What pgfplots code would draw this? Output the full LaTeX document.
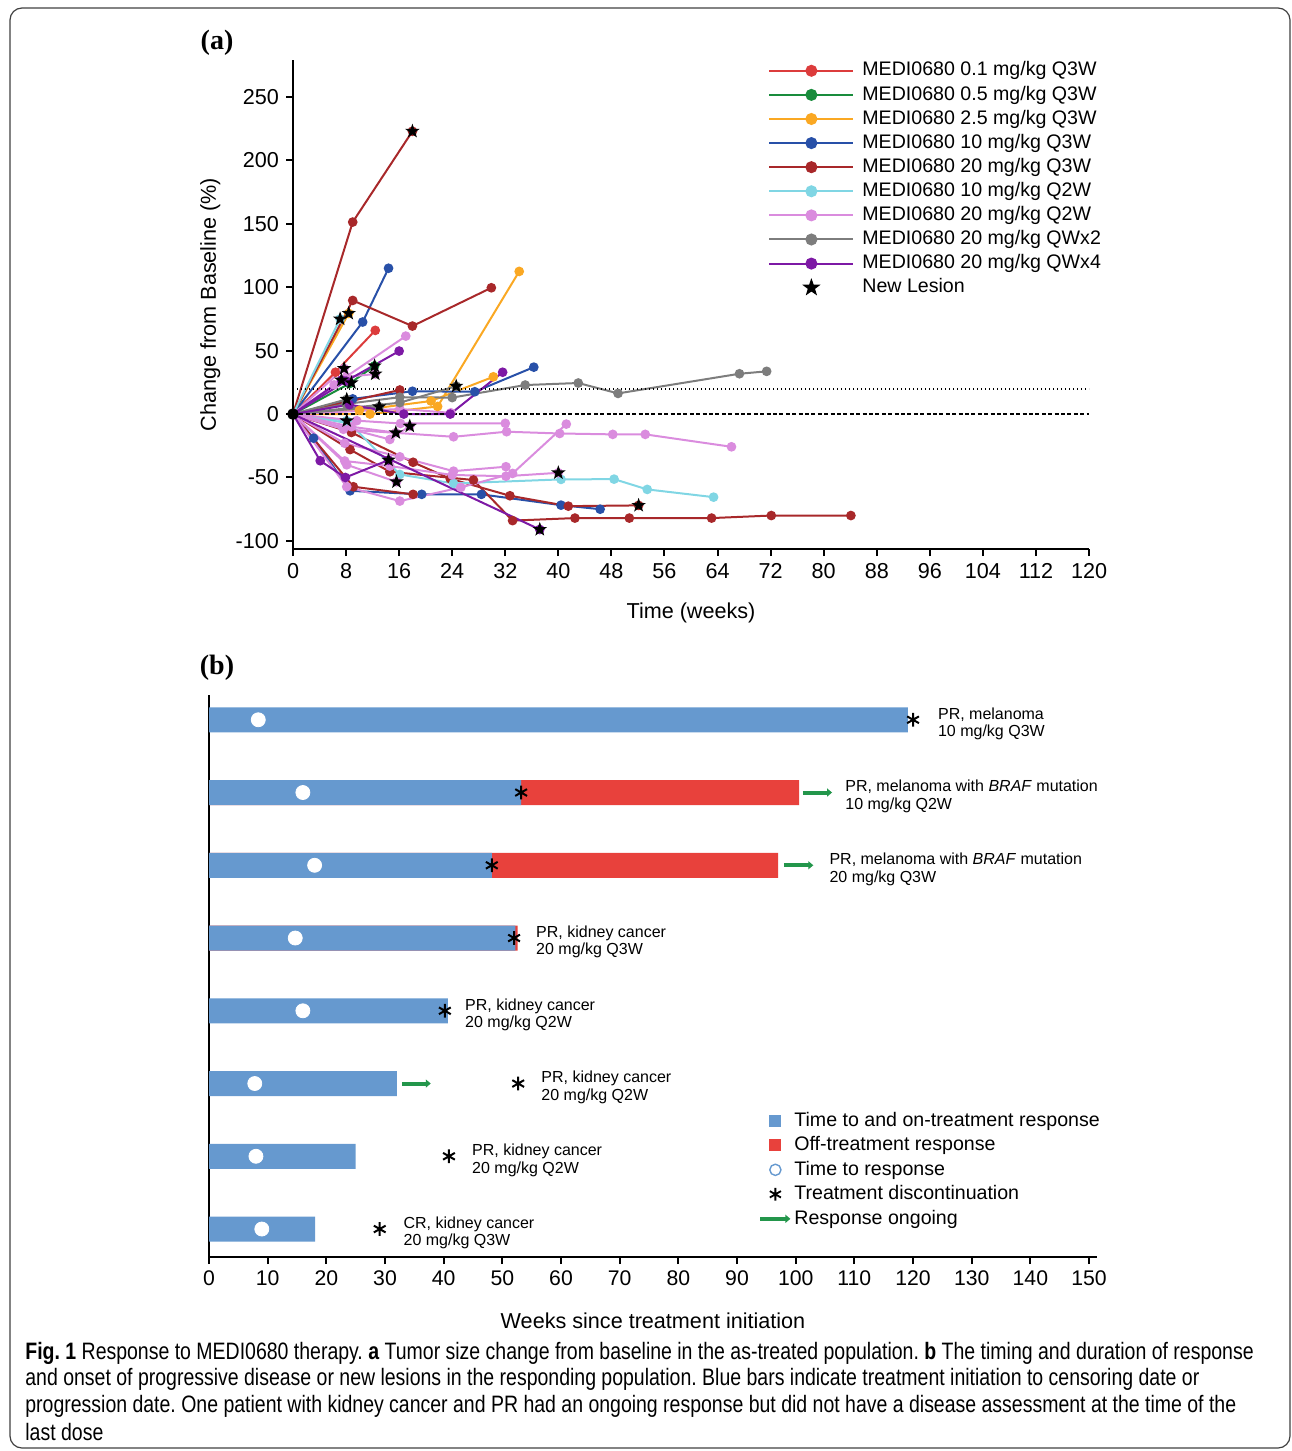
\documentclass[border=0pt]{standalone}
\usepackage{fontspec}
\setmainfont{Liberation Sans}
\newfontfamily\tnr{Liberation Serif}
\newfontfamily\capfont{Liberation Sans}[FakeStretch=0.82]
\usepackage{pgfplots}
\pgfplotsset{compat=1.18}
\usetikzlibrary{arrows.meta}

\definecolor{cA}{RGB}{220,60,60}
\definecolor{cB}{RGB}{25,140,60}
\definecolor{cC}{RGB}{250,168,35}
\definecolor{cD}{RGB}{40,80,168}
\definecolor{cE}{RGB}{168,40,42}
\definecolor{cF}{RGB}{128,214,228}
\definecolor{cG}{RGB}{218,140,222}
\definecolor{cH}{RGB}{125,125,125}
\definecolor{cI}{RGB}{125,25,165}
\definecolor{bblue}{RGB}{102,153,207}
\definecolor{bred}{RGB}{232,65,60}
\definecolor{bgreen}{RGB}{35,150,75}

\pgfdeclareplotmark{fstar}{%
  \pgfpathmoveto{\pgfpointpolar{90}{\pgfplotmarksize}}%
  \pgfpathlineto{\pgfpointpolar{126}{0.4\pgfplotmarksize}}%
  \pgfpathlineto{\pgfpointpolar{162}{\pgfplotmarksize}}%
  \pgfpathlineto{\pgfpointpolar{198}{0.4\pgfplotmarksize}}%
  \pgfpathlineto{\pgfpointpolar{234}{\pgfplotmarksize}}%
  \pgfpathlineto{\pgfpointpolar{270}{0.4\pgfplotmarksize}}%
  \pgfpathlineto{\pgfpointpolar{306}{\pgfplotmarksize}}%
  \pgfpathlineto{\pgfpointpolar{342}{0.4\pgfplotmarksize}}%
  \pgfpathlineto{\pgfpointpolar{18}{\pgfplotmarksize}}%
  \pgfpathlineto{\pgfpointpolar{54}{0.4\pgfplotmarksize}}%
  \pgfpathclose
  \pgfusepathqfill
}

\pgfplotsset{
  sp/.style={line width=1bp, mark=*, mark size=1.9bp, mark options={solid}, forget plot},
  lg/.style={line width=1bp, mark=*, mark size=2.5bp},
}

\begin{document}
\frenchspacing
\begin{tikzpicture}[x=0.5bp,y=-0.5bp]
\useasboundingbox (0,0) rectangle (1292,1451);
\draw[line width=0.6bp, black!75, rounded corners=6bp] (10,8) rectangle (1290,1448);

\node[font=\tnr\bfseries\fontsize{14bp}{16bp}\selectfont] at (217,43) {(a)};
\node[font=\tnr\bfseries\fontsize{14bp}{16bp}\selectfont] at (217,668) {(b)};

% ---------------- Panel a ----------------
\begin{axis}[
  at={(146.5bp,-274.5bp)}, anchor=south west,
  width=398bp, height=244.5bp, scale only axis,
  xmin=0, xmax=120, ymin=-106.4, ymax=279.2,
  axis lines=left, axis line style={line width=1bp, -},
  xtick={0,8,...,120}, ytick={-100,-50,...,250},
  tick align=outside, major tick length=3.5bp, tick style={line width=1bp, black},
  ticklabel style={font=\fontsize{10.8bp}{12bp}\selectfont},
  /pgf/number format/assume math mode=true,
  xlabel={Time (weeks)}, ylabel={Change from Baseline (\%)},
  label style={font=\fontsize{10.8bp}{12bp}\selectfont},
  xlabel style={at={(axis description cs:0.5,-0.131)}, anchor=center},
  ylabel style={at={(axis description cs:-0.104,0.5)}, anchor=center},
  clip=false,
  legend image code/.code={\path[draw=none, fill=none] (0bp,0bp) -- (44bp,0bp); \draw[#1] (0bp,0bp) -- (42bp,0bp); \draw[#1] plot coordinates {(21bp,0bp)};},
  legend style={at={(axis description cs:0.5967,0.9984)}, anchor=north west, draw=none, fill=none,
    inner sep=0pt, font=\fontsize{9.8bp}{11bp}\selectfont, cells={anchor=west},
    nodes={inner xsep=2.5bp, inner ysep=0bp, text height=7.4bp, text depth=2.2bp}, row sep=2.45bp},
]
% 0.1 mg/kg Q3W
\addplot[sp, cA] coordinates {(0,0)(6.4,33)(12.4,66)};
% 0.5 mg/kg Q3W
\addplot[sp, cB] coordinates {(0,0)(8.5,24)(12.3,38)};
% 2.5 mg/kg Q3W
\addplot[sp, cC] coordinates {(0,0)(8.4,79.4)};
\addplot[sp, cC] coordinates {(0,0)(11.6,0)(21.8,6)(34.1,112.5)};
\addplot[sp, cC] coordinates {(0,0)(10,3)(20.8,10.3)(30.2,29.4)};
% 10 mg/kg Q3W
\addplot[sp, cD] coordinates {(0,0)(10.5,72.6)(14.4,115)};
\addplot[sp, cD] coordinates {(0,0)(9,12)(18,18)(27.4,17.6)(36.3,37)};
\addplot[sp, cD] coordinates {(0,0)(3.1,-19)(8.6,-60.5)(19.4,-63.3)(28.4,-63.3)(40.4,-71.8)(46.3,-75)};
% 20 mg/kg Q3W
\addplot[sp, cE] coordinates {(0,0)(9,151.4)(18,223)};
\addplot[sp, cE] coordinates {(0,0)(9,89.6)(18,69.4)(29.9,99.6)};
\addplot[sp, cE] coordinates {(0,0)(16.1,19)};
\addplot[sp, cE] coordinates {(0,0)(8.8,-14.5)(18.1,-38)(23.7,-51)(32.7,-64.4)(41.5,-72.6)(52.1,-72)};
\addplot[sp, cE] coordinates {(0,0)(8.6,-28)(14.6,-45.5)(27.2,-52)(33.1,-84)(42.5,-82)(50.7,-82)(63.1,-82)(72.1,-80)(84.1,-80)};
\addplot[sp, cE] coordinates {(0,0)(9.1,-57.3)(18.1,-63.3)};
% 10 mg/kg Q2W
\addplot[sp, cF] coordinates {(0,0)(7.1,75)};
\addplot[sp, cF] coordinates {(0,0)(8.6,-7.4)(16.1,-47.6)(24.2,-54.7)(40.4,-51.5)(48.4,-51.3)(53.4,-59.4)(63.4,-65.5)};
\addplot[sp, cF] coordinates {(0,0)(8.1,-5.3)};
% 20 mg/kg Q2W
\addplot[sp, cG] coordinates {(0,0)(6.2,23)(17,61.5)};
\addplot[sp, cG] coordinates {(0,0)(8.1,29.4)(12.4,31.6)};
\addplot[sp, cG] coordinates {(0,0)(7.7,36)};
\addplot[sp, cG] coordinates {(0,0)(16.1,4)(23.8,1)};
\addplot[sp, cG] coordinates {(0,0)(9.6,-5.2)(16.2,-7.4)(32,-7.3)};
\addplot[sp, cG] coordinates {(0,0)(7.6,-12)(24.2,-17.9)(32.2,-13.9)(40.2,-15.3)(48.2,-16)(53.1,-16)(66.1,-25.8)};
\addplot[sp, cG] coordinates {(0,0)(8.1,-57.3)(16.1,-68.6)(25.3,-57.8)(33.1,-46.8)(41.2,-7.9)};
\addplot[sp, cG] coordinates {(0,0)(7.8,-23)(16.1,-33.7)(24.2,-45)(32.1,-41.5)};
\addplot[sp, cG] coordinates {(0,0)(7.8,-37)(14.6,-41)(24,-48)(32.1,-49)(40,-46.3)};
\addplot[sp, cG] coordinates {(0,0)(14.6,-20)(17.6,-9.5)};
\addplot[sp, cG] coordinates {(0,0)(8.8,-10)(15.5,-14.7)};
\addplot[sp, cG] coordinates {(0,0)(8.1,-40)(15.6,-53.4)};
% 20 mg/kg QWx2
\addplot[sp, cH] coordinates {(0,0)(8,8)(16.1,13.3)(24,13)(35,22.9)(43,24.5)(49,16.3)(67.3,31.8)(71.4,33.7)};
\addplot[sp, cH] coordinates {(0,0)(16.1,9)(24.6,22)};
\addplot[sp, cH] coordinates {(0,0)(8.1,11.6)};
\addplot[sp, cH] coordinates {(0,0)(13,5.8)};
% 20 mg/kg QWx4
\addplot[sp, cI] coordinates {(0,0)(8,26)(16,49.7)};
\addplot[sp, cI] coordinates {(0,0)(8.5,7.4)(16.7,0)(23.7,0)(31.6,33)};
\addplot[sp, cI] coordinates {(0,0)(4.1,-36.8)(7.9,-50)(14.4,-36.3)};
\addplot[sp, cI] coordinates {(0,0)(37.2,-91)};
\addplot[sp, cI] coordinates {(0,0)(7.3,26.8)};
% reference lines
\addplot[forget plot, black, line width=0.75bp, dash pattern=on 2bp off 1.2bp] coordinates {(0,0)(120,0)};
\addplot[forget plot, black, line width=0.9bp, dash pattern=on 0.7bp off 1.3bp] coordinates {(0,20)(120,20)};
% new lesions
\addplot[forget plot, only marks, mark=fstar, mark size=3.8bp, black] coordinates {
(18,223)(7.1,75)(8.4,79.4)(7.7,36)(12.3,38)(12.4,31.6)(7.3,26.8)(8.8,24.7)(8.1,11.6)(13,5.8)(24.6,22)
(8.1,-5.3)(15.5,-14.7)(17.6,-9.5)(14.4,-36.3)(15.6,-53.4)(40,-46.3)(37.2,-91)(52.1,-72)};
\addplot[forget plot, only marks, mark=*, mark size=2.7bp, black] coordinates {(0,0)};
% legend
\addlegendimage{lg, cA}\addlegendentry{MEDI0680 0.1 mg/kg Q3W}
\addlegendimage{lg, cB}\addlegendentry{MEDI0680 0.5 mg/kg Q3W}
\addlegendimage{lg, cC}\addlegendentry{MEDI0680 2.5 mg/kg Q3W}
\addlegendimage{lg, cD}\addlegendentry{MEDI0680 10 mg/kg Q3W}
\addlegendimage{lg, cE}\addlegendentry{MEDI0680 20 mg/kg Q3W}
\addlegendimage{lg, cF}\addlegendentry{MEDI0680 10 mg/kg Q2W}
\addlegendimage{lg, cG}\addlegendentry{MEDI0680 20 mg/kg Q2W}
\addlegendimage{lg, cH}\addlegendentry{MEDI0680 20 mg/kg QWx2}
\addlegendimage{lg, cI}\addlegendentry{MEDI0680 20 mg/kg QWx4}
\addlegendimage{black, legend image code/.code={\path[draw=none, fill=none] (0bp,0bp) -- (44bp,0bp); \path[draw=none, fill=black] plot[mark=fstar, mark size=4.8bp, mark options={draw=none, fill=black}] coordinates {(21bp,0bp)};}}\addlegendentry{New Lesion}
\end{axis}

% ---------------- Panel b ----------------
\begin{axis}[
  at={(104.5bp,-628.5bp)}, anchor=south west,
  width=444bp, height=281bp, scale only axis,
  xmin=0, xmax=151.36, ymin=0.615, ymax=8.34,
  axis lines=left, axis line style={line width=1bp, -},
  xtick={0,10,...,150}, ytick=\empty,
  tick align=outside, major tick length=3.5bp, tick style={line width=1bp, black},
  ticklabel style={font=\fontsize{10.6bp}{12bp}\selectfont},
  /pgf/number format/assume math mode=true,
  xlabel={Weeks since treatment initiation},
  label style={font=\fontsize{10.8bp}{12bp}\selectfont},
  xlabel style={at={(axis description cs:0.5,-0.114)}, anchor=center},
  clip=false,
  legend style={at={(axis description cs:0.6182,0.2602)}, anchor=north west, draw=none, fill=none,
    inner sep=0pt, font=\fontsize{9.8bp}{11bp}\selectfont, cells={anchor=west},
    nodes={inner xsep=1bp, inner ysep=0bp, text height=7.4bp, text depth=2.2bp}, row sep=2.65bp},
]
\addplot[xbar, bar width=12.5bp, bar shift=0pt, fill=bred, draw=none, forget plot] coordinates {(100.6,7)(97.0,6)(52.6,5)};
\addplot[xbar, bar width=12.5bp, bar shift=0pt, fill=bblue, draw=none, forget plot] coordinates {(119.1,8)(53.2,7)(48.2,6)(52.2,5)(40.7,4)(32.0,3)(25.0,2)(18.1,1)};
\addplot[only marks, mark=*, mark size=3.5bp, white, forget plot] coordinates {(8.4,8)(16,7)(18,6)(14.7,5)(16,4)(7.8,3)(8,2)(9,1)};
\addplot[only marks, mark=asterisk, mark size=3.4bp, black, line width=1bp, forget plot] coordinates {(120,8)(53.2,7)(48.2,6)(52,5)(40.2,4)(52.7,3)(40.9,2)(29.1,1)};
\addplot[bgreen, line width=2bp, -{Triangle[length=2.5bp,width=4bp]}, forget plot] coordinates {(101.2,7)(106.2,7)};
\addplot[bgreen, line width=2bp, -{Triangle[length=2.5bp,width=4bp]}, forget plot] coordinates {(98,6)(103,6)};
\addplot[bgreen, line width=2bp, -{Triangle[length=2.5bp,width=4bp]}, forget plot] coordinates {(32.9,3)(37.8,3)};
\begin{scope}[every node/.style={anchor=west, align=left, inner sep=0pt, yshift=-2bp, font=\fontsize{8bp}{8.7bp}\selectfont}]
\node at (axis cs:124.2,8) {PR, melanoma\\10 mg/kg Q3W};
\node at (axis cs:108.4,7) {PR, melanoma with \textit{BRAF} mutation\\10 mg/kg Q2W};
\node at (axis cs:105.7,6) {PR, melanoma with \textit{BRAF} mutation\\20 mg/kg Q3W};
\node at (axis cs:55.7,5) {PR, kidney cancer\\20 mg/kg Q3W};
\node at (axis cs:43.6,4) {PR, kidney cancer\\20 mg/kg Q2W};
\node at (axis cs:56.6,3) {PR, kidney cancer\\20 mg/kg Q2W};
\node at (axis cs:44.8,2) {PR, kidney cancer\\20 mg/kg Q2W};
\node at (axis cs:33.1,1) {CR, kidney cancer\\20 mg/kg Q3W};
\end{scope}
\addlegendimage{legend image code/.code={\path[draw=none, fill=none] (0bp,0bp) -- (15bp,0bp); \path[draw=none, fill=bblue] (4.5bp,-3bp) rectangle (10.5bp,3bp);}}\addlegendentry{Time to and on-treatment response}
\addlegendimage{legend image code/.code={\path[draw=none, fill=none] (0bp,0bp) -- (15bp,0bp); \path[draw=none, fill=bred] (4.5bp,-3bp) rectangle (10.5bp,3bp);}}\addlegendentry{Off-treatment response}
\addlegendimage{legend image code/.code={\path[draw=none, fill=none] (0bp,0bp) -- (15bp,0bp); \path[draw=bblue, fill=none, line width=0.7bp] (7.5bp,0bp) circle (2.8bp);}}\addlegendentry{Time to response}
\addlegendimage{legend image code/.code={\path[draw=none, fill=none] (0bp,0bp) -- (15bp,0bp); \path[draw=none, fill=none] plot[mark=asterisk, mark size=3.2bp, mark options={draw=black, line width=0.9bp}] coordinates {(7.5bp,0bp)};}}\addlegendentry{Treatment discontinuation}
\addlegendimage{legend image code/.code={\path[draw=bgreen, fill=none, line width=2bp, -{Triangle[length=2.5bp,width=4bp]}] (0bp,0bp) -- (15bp,0bp);}}\addlegendentry{Response ongoing}
\end{axis}

% caption
\begin{scope}[every node/.style={anchor=west, inner sep=0pt, font=\capfont\fontsize{11.88bp}{13bp}\selectfont}]
\node at (25,1353) {\textbf{Fig. 1} Response to MEDI0680 therapy. \textbf{a} Tumor size change from baseline in the as-treated population. \textbf{b} The timing and duration of response};
\node at (25,1379) {and onset of progressive disease or new lesions in the responding population. Blue bars indicate treatment initiation to censoring date or};
\node at (25,1406) {progression date. One patient with kidney cancer and PR had an ongoing response but did not have a disease assessment at the time of the};
\node at (25,1432) {last dose};
\end{scope}
\end{tikzpicture}
\end{document}
